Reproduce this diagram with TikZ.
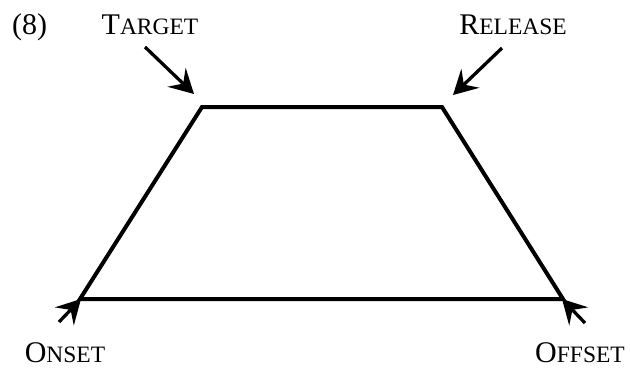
\documentclass[tikz,border=0pt]{standalone}
\usepackage{fontspec}
\setmainfont{Liberation Serif}
\usetikzlibrary{arrows.meta}
\newcommand{\fsc}[2]{{\fontsize{30bp}{31bp}\selectfont #1}{\fontsize{23.5bp}{24bp}\selectfont #2}}
\begin{document}
\begin{tikzpicture}[x=1bp,y=-1bp,
  lbl/.style={inner sep=0pt,anchor=base},
  outline/.style={line width=4bp,line join=miter},
  pointer/.style={line width=3.3bp,-{Stealth[length=24bp 0,width=26bp 0,inset=9bp 0]}}]
\useasboundingbox (0,0) rectangle (630,367);
\coordinate (bl) at (80,299);
\coordinate (tl) at (202,107);
\coordinate (tr) at (442,107);
\coordinate (br) at (563,299);
\draw[outline] (bl) -- (tl) -- (tr) -- (br) -- cycle;
\node[lbl,font=\fontsize{30bp}{31bp}\selectfont] (num) at (29.5,34) {(8)};
\node[lbl] (target) at (150,34) {\fsc{T}{ARGET}};
\node[lbl] (release) at (513,34) {\fsc{R}{ELEASE}};
\node[lbl] (onset) at (65,362) {\fsc{O}{NSET}};
\node[lbl] (offset) at (580,362) {\fsc{O}{FFSET}};
\coordinate (ta) at (145,47);
\coordinate (tb) at (194,94);
\coordinate (ra) at (502,48);
\coordinate (rb) at (453,95);
\coordinate (oa) at (59,322);
\coordinate (ob) at (81,299);
\coordinate (fa) at (585,323);
\coordinate (fb) at (562,299);
\draw[pointer] (ta) -- (tb);
\draw[pointer] (ra) -- (rb);
\draw[pointer] (oa) -- (ob);
\draw[pointer] (fa) -- (fb);
\end{tikzpicture}
\end{document}
